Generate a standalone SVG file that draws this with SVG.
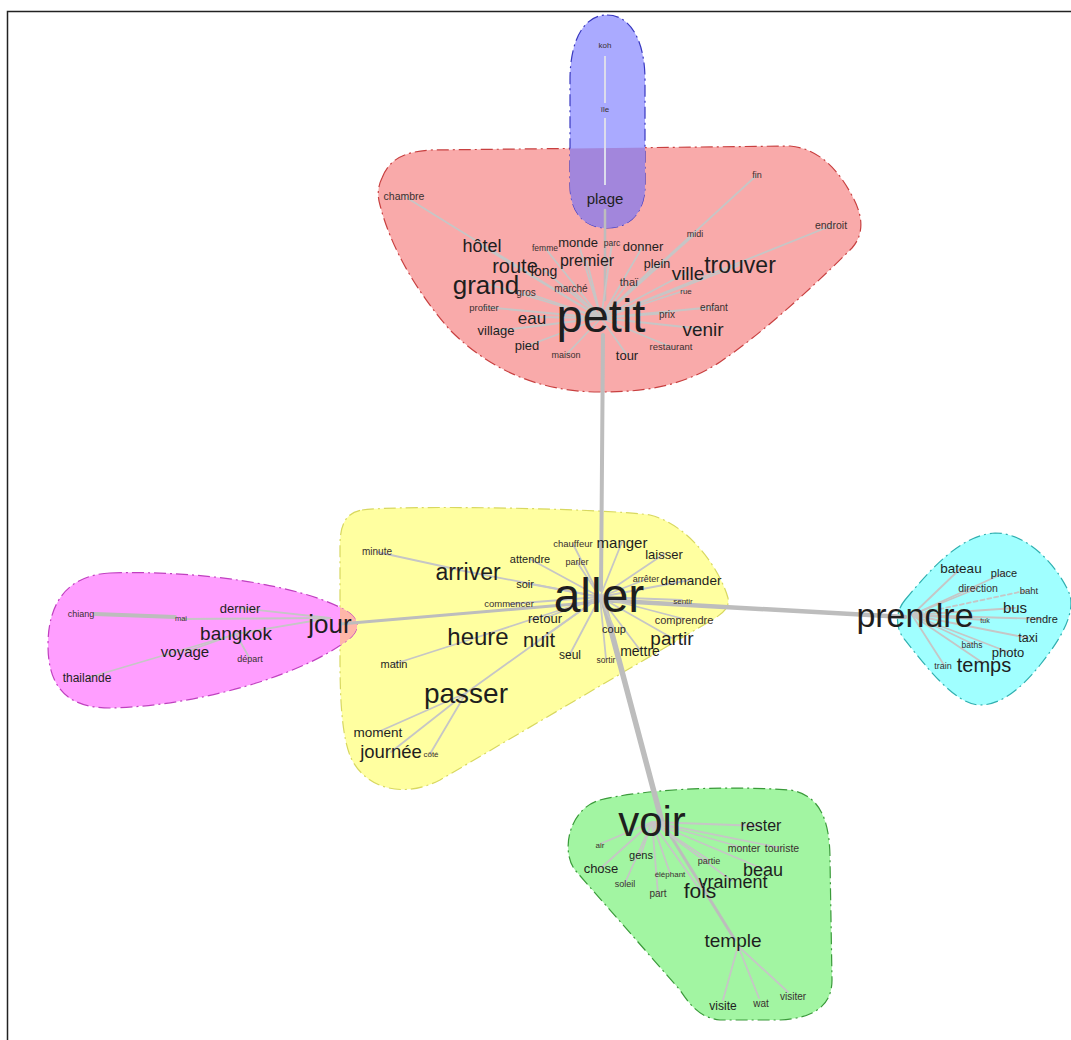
<svg xmlns="http://www.w3.org/2000/svg" width="1071" height="1040" viewBox="0 0 1071 1040">
<style>
text{font-family:"Liberation Sans",Arial,sans-serif;text-anchor:middle;fill:#1e1e1e}
.s{fill:#3a3030}
.blob{stroke-width:1.2;stroke-dasharray:12 4 2 4}
.e{stroke:#c6c6c6;stroke-width:1.8;fill:none;stroke-linecap:round}
.m{stroke:#bdbdbd;fill:none;stroke-linecap:round}
</style>
<defs>
<path id="redShape" d="M 382,178 C 390,158 405,152 430,150 L 790,146 C 815,148 835,165 850,192 C 862,212 866,232 852,248 C 810,290 760,335 720,362 C 680,388 640,392 600,392 C 540,392 490,370 450,330 C 415,290 390,245 380,205 C 377,195 378,186 382,178 Z"/>
<path id="blueShape" d="M 607,15 C 630,15 645,40 645,80 L 645,185 C 645,212 630,228 607,228 C 584,228 570,212 570,185 L 570,80 C 570,40 584,15 607,15 Z"/>
<path id="yellowShape" d="M 362,510 C 400,505 600,508 650,515 C 690,525 720,570 728,598 C 730,608 722,614 712,620 L 440,780 C 405,798 368,790 352,760 C 342,740 340,700 340,660 L 340,545 C 340,522 348,512 362,510 Z"/>
<path id="pinkShape" d="M 110,573 C 200,570 300,585 345,610 C 362,620 360,632 345,642 C 300,675 200,706 110,708 C 70,708 48,690 48,645 C 48,600 70,575 110,573 Z"/>
<clipPath id="clipRed"><use href="#redShape"/></clipPath>
<clipPath id="clipYellow"><use href="#yellowShape"/></clipPath>
</defs>
<rect width="1071" height="1040" fill="#ffffff"/>
<path d="M7.5,1040 V11.5 H1071" fill="none" stroke="#222" stroke-width="1.5"/>

<g id="clusters">
<use href="#redShape" fill="#f9aaaa" stroke="#c84040" class="blob"/>
<use href="#yellowShape" fill="#ffffa0" stroke="#d8d860" class="blob"/>
<use href="#pinkShape" fill="#ff9eff" stroke="#c040c0" class="blob"/>
<use href="#pinkShape" fill="#ffb6a8" clip-path="url(#clipYellow)"/>
<use href="#blueShape" fill="#aaaaff" stroke="#3838c0" class="blob"/>
<use href="#blueShape" fill="#a286dc" clip-path="url(#clipRed)"/>
<path d="M 905,600 C 930,570 960,535 995,533 C 1030,533 1060,570 1070,595 C 1075,615 1060,640 1040,665 C 1020,690 1000,705 980,705 C 955,705 925,665 905,640 C 895,628 895,612 905,600 Z" fill="#a0ffff" stroke="#30b0b0" class="blob"/>
<path d="M 600,800 C 640,790 720,785 790,790 C 820,795 830,820 830,860 L 832,980 C 832,1005 815,1018 780,1020 L 720,1020 C 700,1018 690,1005 680,990 L 575,870 C 560,850 570,808 600,800 Z" fill="#a2f5a2" stroke="#3a9a3a" class="blob"/>
</g>

<g id="edges">
<line class="m" x1="603" y1="335" x2="601" y2="590" stroke-width="4"/>
<line class="m" x1="598" y1="602" x2="340" y2="624" stroke-width="3"/>
<line class="m" x1="600" y1="600" x2="905" y2="617" stroke-width="4.5"/>
<line class="m" x1="603" y1="600" x2="662" y2="822" stroke-width="5.5"/>
<line class="m" x1="662" y1="822" x2="735" y2="940" stroke-width="3"/>
<line class="m" x1="605" y1="300" x2="605" y2="210" stroke-width="2.5"/>
<line x1="605" y1="185" x2="605" y2="118" stroke="#dcdcec" stroke-width="2"/>
<line x1="605" y1="103" x2="605" y2="56" stroke="#dcdcec" stroke-width="2"/>
<g class="e">
<line x1="601" y1="318" x2="404" y2="196"/><line x1="601" y1="318" x2="757" y2="175"/>
<line x1="601" y1="318" x2="695" y2="234"/><line x1="601" y1="318" x2="833" y2="225"/>
<line x1="601" y1="318" x2="482" y2="246"/><line x1="601" y1="318" x2="545" y2="248"/>
<line x1="601" y1="318" x2="578" y2="242"/><line x1="601" y1="318" x2="612" y2="243"/>
<line x1="601" y1="318" x2="643" y2="246"/><line x1="601" y1="318" x2="515" y2="266"/>
<line x1="601" y1="318" x2="544" y2="270"/><line x1="601" y1="318" x2="587" y2="261"/>
<line x1="601" y1="318" x2="657" y2="264"/><line x1="601" y1="318" x2="688" y2="272"/>
<line x1="601" y1="318" x2="740" y2="265"/><line x1="601" y1="318" x2="488" y2="284"/>
<line x1="601" y1="318" x2="524" y2="292"/><line x1="601" y1="318" x2="571" y2="289"/>
<line x1="601" y1="318" x2="629" y2="282"/><line x1="601" y1="318" x2="686" y2="290"/>
<line x1="601" y1="318" x2="484" y2="307"/><line x1="601" y1="318" x2="714" y2="307"/>
<line x1="601" y1="318" x2="532" y2="317"/><line x1="601" y1="318" x2="667" y2="313"/>
<line x1="601" y1="318" x2="496" y2="331"/><line x1="601" y1="318" x2="703" y2="329"/>
<line x1="601" y1="318" x2="527" y2="346"/><line x1="601" y1="318" x2="566" y2="355"/>
<line x1="601" y1="318" x2="627" y2="355"/><line x1="601" y1="318" x2="671" y2="347"/>
</g>
<g class="e">
<line x1="600" y1="597" x2="573" y2="544"/><line x1="600" y1="597" x2="622" y2="542"/>
<line x1="600" y1="597" x2="577" y2="562"/><line x1="600" y1="597" x2="530" y2="559"/>
<line x1="600" y1="597" x2="664" y2="554"/><line x1="600" y1="597" x2="469" y2="572"/>
<line x1="600" y1="597" x2="647" y2="579"/><line x1="600" y1="597" x2="690" y2="580"/>
<line x1="600" y1="597" x2="525" y2="583"/><line x1="600" y1="597" x2="509" y2="604"/>
<line x1="600" y1="597" x2="682" y2="600"/><line x1="600" y1="597" x2="545" y2="618"/>
<line x1="600" y1="597" x2="684" y2="619"/><line x1="600" y1="597" x2="478" y2="637"/>
<line x1="600" y1="597" x2="614" y2="628"/><line x1="600" y1="597" x2="539" y2="640"/>
<line x1="600" y1="597" x2="672" y2="638"/><line x1="600" y1="597" x2="570" y2="654"/>
<line x1="600" y1="597" x2="640" y2="650"/><line x1="600" y1="597" x2="606" y2="659"/>
<line x1="600" y1="597" x2="466" y2="693"/>
<line x1="469" y1="572" x2="377" y2="552"/><line x1="478" y1="637" x2="394" y2="664"/>
<line x1="466" y1="693" x2="378" y2="732"/><line x1="466" y1="693" x2="391" y2="752"/>
<line x1="466" y1="693" x2="430" y2="754"/>
</g>
<g class="e">
<line x1="330" y1="618" x2="240" y2="608"/><line x1="330" y1="618" x2="236" y2="634"/>
<line x1="330" y1="618" x2="181" y2="619"/><line x1="236" y1="634" x2="185" y2="652"/>
<line x1="236" y1="634" x2="87" y2="678"/><line x1="236" y1="634" x2="250" y2="659"/>
</g>
<line class="m" x1="95" y1="614" x2="175" y2="617" stroke-width="4"/>
<g class="e" stroke="#cfbcbc">
<line x1="912" y1="615" x2="961" y2="568"/><line x1="912" y1="615" x2="1004" y2="573"/>
<line x1="912" y1="615" x2="978" y2="588"/><line x1="912" y1="615" x2="1029" y2="590" stroke-dasharray="4 3"/>
<line x1="912" y1="615" x2="1015" y2="608"/><line x1="912" y1="615" x2="985" y2="620"/>
<line x1="912" y1="615" x2="1042" y2="619"/><line x1="912" y1="615" x2="1028" y2="638"/>
<line x1="912" y1="615" x2="973" y2="644"/><line x1="912" y1="615" x2="1008" y2="652"/>
<line x1="912" y1="615" x2="944" y2="665"/><line x1="912" y1="615" x2="983" y2="663"/>
</g>
<g class="e">
<line x1="652" y1="822" x2="600" y2="844"/><line x1="652" y1="822" x2="641" y2="854"/>
<line x1="652" y1="822" x2="601" y2="868"/><line x1="652" y1="822" x2="625" y2="883"/>
<line x1="652" y1="822" x2="670" y2="873"/><line x1="652" y1="822" x2="658" y2="894"/>
<line x1="652" y1="822" x2="709" y2="860"/><line x1="652" y1="822" x2="700" y2="890"/>
<line x1="652" y1="822" x2="732" y2="881"/><line x1="652" y1="822" x2="763" y2="869"/>
<line x1="652" y1="822" x2="744" y2="848"/><line x1="652" y1="822" x2="781" y2="848"/>
<line x1="652" y1="822" x2="761" y2="826"/>
<line x1="738" y1="946" x2="723" y2="1000"/><line x1="738" y1="946" x2="759" y2="998"/>
<line x1="738" y1="946" x2="788" y2="992"/>
</g>
</g>

<g id="nodes">
<g id="n-koh"><text x="605" y="48" font-size="8" class="s">koh</text></g>
<g id="n-ile"><text x="605" y="112" font-size="8" class="s">île</text></g>
<g id="n-plage"><text x="605" y="204" font-size="15">plage</text></g>

<g id="n-chambre"><text x="404" y="200" font-size="10.5" class="s">chambre</text></g>
<g id="n-fin"><text x="757" y="178" font-size="9" class="s">fin</text></g>
<g id="n-midi"><text x="695" y="237" font-size="9" class="s">midi</text></g>
<g id="n-endroit"><text x="831" y="229" font-size="10.5" class="s">endroit</text></g>
<g id="n-hotel"><text x="482" y="252" font-size="18">hôtel</text></g>
<g id="n-femme"><text x="545" y="251" font-size="8.5" class="s">femme</text></g>
<g id="n-monde"><text x="578" y="247" font-size="13">monde</text></g>
<g id="n-parc"><text x="612" y="246" font-size="8.5" class="s">parc</text></g>
<g id="n-donner"><text x="643" y="251" font-size="13">donner</text></g>
<g id="n-route"><text x="515" y="273" font-size="20">route</text></g>
<g id="n-long"><text x="544" y="276" font-size="14">long</text></g>
<g id="n-premier"><text x="587" y="266" font-size="16">premier</text></g>
<g id="n-plein"><text x="657" y="268" font-size="12.5">plein</text></g>
<g id="n-ville"><text x="688" y="280" font-size="19">ville</text></g>
<g id="n-trouver"><text x="740" y="273" font-size="23">trouver</text></g>
<g id="n-grand"><text x="486" y="294" font-size="26">grand</text></g>
<g id="n-gros"><text x="526" y="296" font-size="10" class="s">gros</text></g>
<g id="n-marche"><text x="571" y="292" font-size="10" class="s">marché</text></g>
<g id="n-thai"><text x="629" y="286" font-size="11" class="s">thaï</text></g>
<g id="n-rue"><text x="686" y="294" font-size="8" class="s">rue</text></g>
<g id="n-profiter"><text x="484" y="311" font-size="9.5" class="s">profiter</text></g>
<g id="n-enfant"><text x="714" y="311" font-size="10" class="s">enfant</text></g>
<g id="n-eau"><text x="532" y="324" font-size="17">eau</text></g>
<g id="n-petit"><text x="601" y="332" font-size="47">petit</text></g>
<g id="n-prix"><text x="667" y="318" font-size="10" class="s">prix</text></g>
<g id="n-village"><text x="496" y="335" font-size="13">village</text></g>
<g id="n-venir"><text x="703" y="336" font-size="19">venir</text></g>
<g id="n-pied"><text x="527" y="350" font-size="13">pied</text></g>
<g id="n-maison"><text x="566" y="358" font-size="9" class="s">maison</text></g>
<g id="n-tour"><text x="627" y="360" font-size="13">tour</text></g>
<g id="n-restaurant"><text x="671" y="350" font-size="9.5" class="s">restaurant</text></g>

<g id="n-minute"><text x="377" y="555" font-size="10" class="s">minute</text></g>
<g id="n-chauffeur"><text x="573" y="547" font-size="9.5" class="s">chauffeur</text></g>
<g id="n-manger"><text x="622" y="548" font-size="15">manger</text></g>
<g id="n-parler"><text x="577" y="565" font-size="9" class="s">parler</text></g>
<g id="n-attendre"><text x="530" y="563" font-size="11">attendre</text></g>
<g id="n-laisser"><text x="664" y="559" font-size="13">laisser</text></g>
<g id="n-arriver"><text x="468" y="580" font-size="23">arriver</text></g>
<g id="n-arreter"><text x="646" y="582" font-size="9" class="s">arrêter</text></g>
<g id="n-demander"><text x="691" y="585" font-size="13.5">demander</text></g>
<g id="n-soir"><text x="525" y="588" font-size="11">soir</text></g>
<g id="n-commencer"><text x="509" y="607" font-size="9.5" class="s">commencer</text></g>
<g id="n-sentir"><text x="683" y="604" font-size="8" class="s">sentir</text></g>
<g id="n-aller"><text x="599" y="612" font-size="48">aller</text></g>
<g id="n-retour"><text x="545" y="623" font-size="13">retour</text></g>
<g id="n-comprendre"><text x="684" y="624" font-size="11" class="s">comprendre</text></g>
<g id="n-heure"><text x="478" y="645" font-size="24">heure</text></g>
<g id="n-coup"><text x="614" y="633" font-size="11">coup</text></g>
<g id="n-nuit"><text x="539" y="647" font-size="20">nuit</text></g>
<g id="n-partir"><text x="672" y="645" font-size="19">partir</text></g>
<g id="n-seul"><text x="570" y="659" font-size="12">seul</text></g>
<g id="n-mettre"><text x="640" y="656" font-size="14">mettre</text></g>
<g id="n-sortir"><text x="606" y="663" font-size="8.5" class="s">sortir</text></g>
<g id="n-matin"><text x="394" y="668" font-size="11">matin</text></g>
<g id="n-passer"><text x="466" y="703" font-size="28">passer</text></g>
<g id="n-moment"><text x="378" y="737" font-size="13.5">moment</text></g>
<g id="n-journee"><text x="391" y="758" font-size="18.5">journée</text></g>
<g id="n-cote"><text x="431" y="757" font-size="8" class="s">côté</text></g>

<g id="n-chiang"><text x="81" y="617" font-size="9" class="s">chiang</text></g>
<g id="n-mai"><text x="181" y="621" font-size="7.5" class="s">mai</text></g>
<g id="n-dernier"><text x="240" y="613" font-size="13">dernier</text></g>
<g id="n-jour"><text x="330" y="633" font-size="26">jour</text></g>
<g id="n-bangkok"><text x="236" y="640" font-size="19">bangkok</text></g>
<g id="n-voyage"><text x="185" y="657" font-size="15">voyage</text></g>
<g id="n-depart"><text x="250" y="662" font-size="9" class="s">départ</text></g>
<g id="n-thailande"><text x="87" y="682" font-size="12">thailande</text></g>

<g id="n-bateau"><text x="961" y="573" font-size="13.5">bateau</text></g>
<g id="n-place"><text x="1004" y="577" font-size="11">place</text></g>
<g id="n-direction"><text x="978" y="592" font-size="10.5" class="s">direction</text></g>
<g id="n-baht"><text x="1029" y="594" font-size="9.5" class="s">baht</text></g>
<g id="n-prendre"><text x="915" y="627" font-size="34">prendre</text></g>
<g id="n-bus"><text x="1015" y="613" font-size="15">bus</text></g>
<g id="n-tuk"><text x="985" y="623" font-size="7" class="s">tuk</text></g>
<g id="n-rendre"><text x="1042" y="623" font-size="11">rendre</text></g>
<g id="n-taxi"><text x="1028" y="642" font-size="12.5">taxi</text></g>
<g id="n-baths"><text x="972" y="648" font-size="8.5" class="s">baths</text></g>
<g id="n-photo"><text x="1008" y="657" font-size="13">photo</text></g>
<g id="n-train"><text x="943" y="669" font-size="9" class="s">train</text></g>
<g id="n-temps"><text x="984" y="672" font-size="20">temps</text></g>

<g id="n-voir"><text x="652" y="836" font-size="42">voir</text></g>
<g id="n-rester"><text x="761" y="831" font-size="16">rester</text></g>
<g id="n-air"><text x="600" y="848" font-size="8" class="s">air</text></g>
<g id="n-monter"><text x="744" y="852" font-size="10.5" class="s">monter</text></g>
<g id="n-touriste"><text x="782" y="852" font-size="10.5" class="s">touriste</text></g>
<g id="n-gens"><text x="641" y="859" font-size="11">gens</text></g>
<g id="n-partie"><text x="709" y="864" font-size="9" class="s">partie</text></g>
<g id="n-chose"><text x="601" y="873" font-size="13">chose</text></g>
<g id="n-beau"><text x="763" y="876" font-size="18">beau</text></g>
<g id="n-elephant"><text x="670" y="877" font-size="8" class="s">éléphant</text></g>
<g id="n-soleil"><text x="625" y="887" font-size="9" class="s">soleil</text></g>
<g id="n-vraiment"><text x="733" y="888" font-size="18">vraiment</text></g>
<g id="n-fois"><text x="700" y="898" font-size="21">fois</text></g>
<g id="n-part"><text x="658" y="897" font-size="10" class="s">part</text></g>
<g id="n-temple"><text x="733" y="947" font-size="19">temple</text></g>
<g id="n-visite"><text x="723" y="1010" font-size="12">visite</text></g>
<g id="n-wat"><text x="761" y="1007" font-size="10" class="s">wat</text></g>
<g id="n-visiter"><text x="793" y="1000" font-size="10" class="s">visiter</text></g>
</g>
</svg>
